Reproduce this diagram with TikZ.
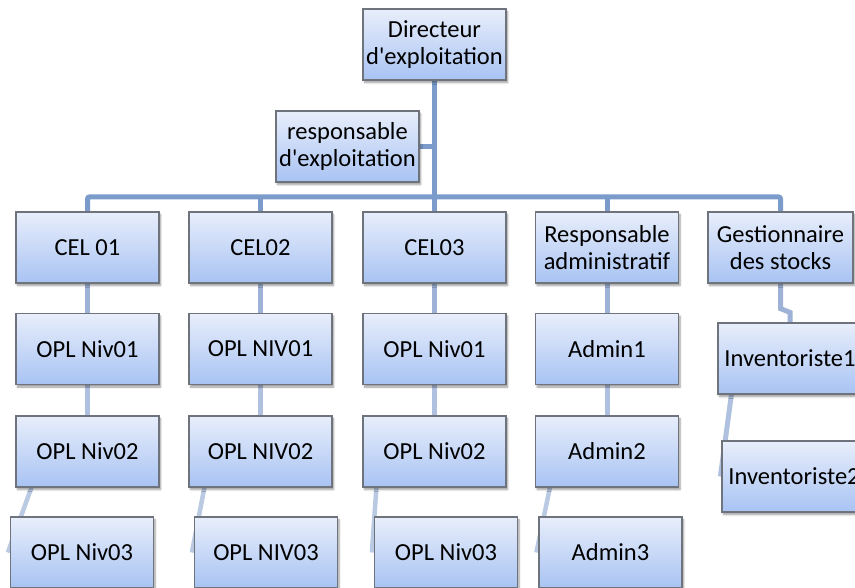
\documentclass[tikz,border=0pt]{standalone}
\usepackage{fontspec}
\setmainfont{Carlito}[Ligatures=TeXOff]
\usetikzlibrary{calc,backgrounds,shadows.blur}

\definecolor{boxtop}{HTML}{E8EEFB}
\definecolor{boxbot}{HTML}{A8C3F3}
\definecolor{boxline}{HTML}{6F747C}
\definecolor{busblue}{HTML}{7B9BCB}
\definecolor{linkA}{HTML}{9DB2D6}
\definecolor{linkB}{HTML}{B0C1DF}
\definecolor{linkC}{HTML}{BACAE3}

\begin{document}
\begin{tikzpicture}[x=1pt,y=-1pt,
  orgbox/.style={draw=boxline, line width=1.2pt, rectangle,
    minimum width=143pt, minimum height=71pt, inner sep=0pt, align=center,
    top color=boxtop, bottom color=boxbot,
    blur shadow={shadow xshift=1.5pt, shadow yshift=-2.5pt,
      shadow blur steps=6, shadow opacity=40},
    font=\fontsize{24.5}{26.5}\selectfont},
  bus/.style={draw=busblue, line width=5pt},
  linka/.style={draw=linkA, line width=5pt},
  linkb/.style={draw=linkB, line width=5pt},
  linkc/.style={draw=linkC, line width=4.5pt}]

\useasboundingbox (0,0) rectangle (855,588);
\clip (0,0) rectangle (855,588);

% management
\node[orgbox] (dir)  at (434.5,44.5)  {Directeur\\d'exploitation};
\node[orgbox] (rexp) at (347.5,146.5) {responsable\\d'exploitation};

% first level
\node[orgbox] (cel1) at (87.5,247.5)  {CEL 01};
\node[orgbox] (cel2) at (260.5,247.5) {CEL02};
\node[orgbox] (cel3) at (434.5,247.5) {CEL03};
\node[orgbox] (radm) at (607,247.5)   {Responsable\\administratif};
\node[orgbox, minimum width=145pt] (gest) at (780.5,247.5) {Gestionnaire\\des stocks};

% second level
\node[orgbox] (a1) at (87.5,349)  {OPL Niv01};
\node[orgbox] (b1) at (260.5,349) {OPL NIV01};
\node[orgbox] (c1) at (434.5,349) {OPL Niv01};
\node[orgbox] (d1) at (607,349)   {Admin1};
\node[orgbox, minimum width=144pt] (e1) at (790,358.5) {Inventoriste1};

% third level
\node[orgbox] (a2) at (87.5,451.5)  {OPL Niv02};
\node[orgbox] (b2) at (260.5,451.5) {OPL NIV02};
\node[orgbox] (c2) at (434.5,451.5) {OPL Niv02};
\node[orgbox] (d2) at (607,451.5)   {Admin2};
\node[orgbox, minimum width=144pt] (e2) at (794,476.5) {Inventoriste2};

% fourth level
\node[orgbox] (a3) at (82,552.5)    {OPL Niv03};
\node[orgbox] (b3) at (266,552.5)   {OPL NIV03};
\node[orgbox] (c3) at (446,552.5)   {OPL Niv03};
\node[orgbox] (d3) at (610.5,552.5) {Admin3};

\begin{scope}[on background layer]
  % trunk and distribution bus
  \coordinate (busy) at (0,197);
  \draw[bus] (dir.south) -- (cel3.north);
  \draw[bus] (rexp.east) -- (rexp.east -| dir.south);
  \draw[bus, rounded corners=2pt] (cel1.north) -- (cel1.north |- busy)
    -- (gest.north |- busy) -- (gest.north);
  \draw[bus] (cel2.north) -- (cel2.north |- busy);
  \draw[bus] (radm.north) -- (radm.north |- busy);

  % first to second level
  \draw[linka] (cel1) -- (a1);
  \draw[linka] (cel2) -- (b1);
  \draw[linka] (cel3) -- (c1);
  \draw[linka] (radm) -- (d1);
  \draw[linka] (gest.south) -- ($(gest.south)+(0,25)$)
    -- ($(e1.north)+(0,-10)$) -- (e1.north);

  % second to third level
  \draw[linkb] (a1) -- (a2);
  \draw[linkb] (b1) -- (b2);
  \draw[linkb] (c1) -- (c2);
  \draw[linkb] (d1) -- (d2);
  \draw[linkb] ($(e1.south west)+(14,0)$) -- ($(e2.west)+(-1,0)$);

  % third to fourth level
  \draw[linkc] ($(a2.south west)+(16,0)$) -- ($(a3.west)+(-2,0)$);
  \draw[linkc] ($(b2.south west)+(16,0)$) -- ($(b3.west)+(-2,0)$);
  \draw[linkc] ($(c2.south west)+(14,0)$) -- ($(c3.west)+(-2,0)$);
  \draw[linkc] ($(d2.south west)+(15,0)$) -- ($(d3.west)+(-2,0)$);
\end{scope}
\end{tikzpicture}
\end{document}
